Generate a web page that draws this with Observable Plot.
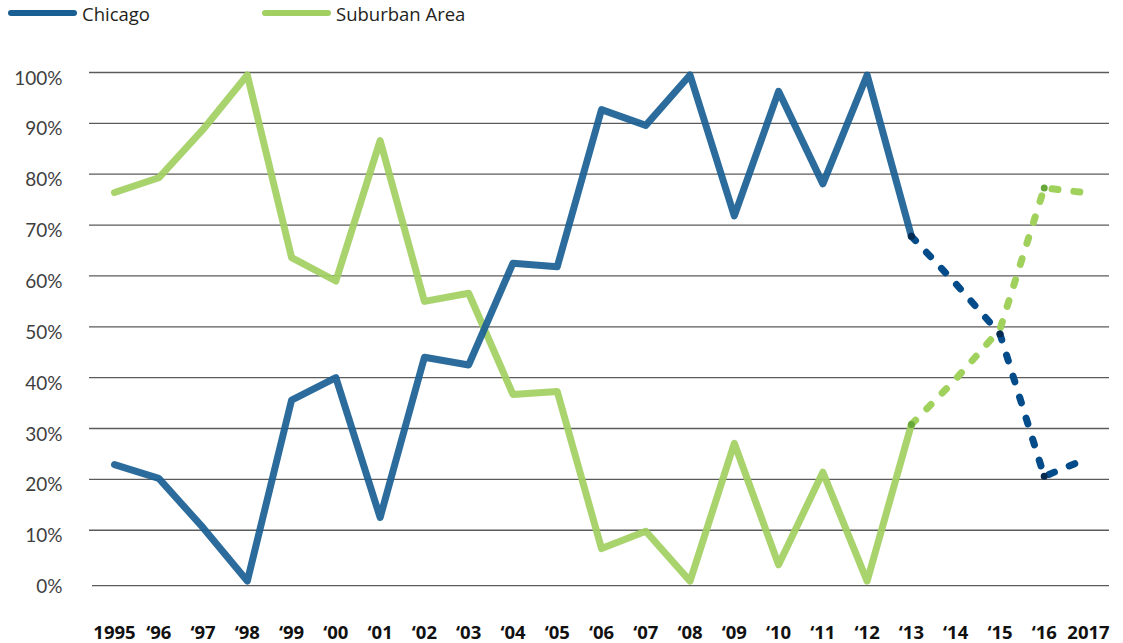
<!DOCTYPE html>
<html><head><meta charset="utf-8">
<script src="https://cdn.jsdelivr.net/npm/d3@7"></script>
<script src="https://cdn.jsdelivr.net/npm/@observablehq/plot@0.6"></script>
<style>
html,body{margin:0;padding:0;background:#fff;width:1123px;height:643px;overflow:hidden}
#legend{position:relative;height:28px;font-family:"Open Sans",sans-serif;font-size:18.5px;color:#231f20}
.item{position:absolute;top:-1px;height:28px;display:flex;align-items:center;white-space:nowrap}
.swatch{width:69px;height:6px;border-radius:3px;margin-right:5px}
</style></head><body>
<div id="legend"></div>
<div id="chart"></div>
<script>
const years = [1995,1996,1997,1998,1999,2000,2001,2002,2003,2004,2005,2006,2007,2008,2009,2010,2011,2012,2013,2014,2015,2016,2017];
const tickLabels = ["1995","‘96","‘97","‘98","‘99","‘00","‘01","‘02","‘03","‘04","‘05","‘06","‘07","‘08","‘09","‘10","‘11","‘12","‘13","‘14","‘15","‘16","2017"];
const chicago  = [22.9,20.2,10.5,0,35.6,40.0,12.5,44.0,42.5,62.5,61.8,92.7,89.6,99.5,71.8,96.3,78.1,99.5,67.8,58.5,48.6,20.6,24.2];
const suburban = [76.4,79.3,88.8,99.5,63.6,59.0,86.6,55.0,56.6,36.7,37.3,6.4,9.8,0,27.1,3.2,21.4,0,30.8,39.7,49.5,77.3,76.3];
const seriesNames = ["Chicago","Suburban Area"];
const lastActualYear = 2013;
const chicagoJointYears = [2013,2015,2016];
const suburbanJointYears = [2013,2016];
const yTicks = [0,10,20,30,40,50,60,70,80,90,100];

const colors = {
  "Chicago": {solid:"#1a5f94", dashed:"#034c89", joint:"#052a52"},
  "Suburban Area": {solid:"#a2cf61", dashed:"#9fd15c", joint:"#68a83a"}
};

// legend
const legend = document.getElementById("legend");
const legendLeft = [8, 262];
seriesNames.forEach((name,i)=>{
  const it = document.createElement("div");
  it.className = "item";
  it.style.left = legendLeft[i] + "px";
  const sw = document.createElement("div");
  sw.className = "swatch";
  sw.style.background = colors[name].solid;
  it.appendChild(sw);
  const t = document.createElement("span");
  t.textContent = name;
  it.appendChild(t);
  legend.appendChild(it);
});

const rows = [];
years.forEach((y,i)=>{
  rows.push({year:y, value:chicago[i], series:"Chicago"});
  rows.push({year:y, value:suburban[i], series:"Suburban Area"});
});
const actual = rows.filter(d=>d.year<=lastActualYear);
const projected = rows.filter(d=>d.year>=lastActualYear);
const joints = rows.filter(d=> d.series==="Chicago" ? chicagoJointYears.includes(d.year) : suburbanJointYears.includes(d.year));

const order = ["Suburban Area","Chicago"];
const lineMarks = [];
for (const s of order) {
  lineMarks.push(Plot.lineY(actual.filter(d=>d.series===s), {x:"year", y:"value", stroke: colors[s].solid, strokeWidth:7, strokeOpacity:0.92, strokeLinecap:"round", strokeLinejoin:"round"}));
}
for (const s of order) {
  lineMarks.push(Plot.lineY(projected.filter(d=>d.series===s), {x:"year", y:"value", stroke: colors[s].dashed, strokeWidth:7, strokeDasharray:"6,16", strokeLinecap:"round", strokeLinejoin:"round"}));
}

const chart = Plot.plot({
  width:1123,
  height:615,
  marginLeft:114,
  marginRight:35,
  marginTop:44,
  marginBottom:62.4,
  style:{fontFamily:"Lato, sans-serif", background:"#fff"},
  x:{type:"linear", domain:[1995,2017], label:null},
  y:{domain:[0,100], label:null},
  marks:[
    Plot.ruleY(yTicks.filter(d=>d>0), {stroke:"#5b5b5b", strokeWidth:1.3, insetLeft:-25, insetRight:-21}),
    Plot.ruleY([0], {stroke:"#5b5b5b", strokeWidth:1.3, dy:4.5, insetLeft:-22, insetRight:-21}),
    ...lineMarks,
    Plot.dot(joints, {x:"year", y:"value", r:3.5, fill:d=>colors[d.series].joint, stroke:null}),
    Plot.axisY({ticks:yTicks, tickFormat:d=>d+"%", tickSize:0, tickPadding:52, dy:6, fontSize:19, fontFamily:"Lato, sans-serif", color:"#3f3f3f", label:null}),
    Plot.axisX({ticks:years, tickFormat:d=>tickLabels[years.indexOf(d)], tickSize:0, tickPadding:45, fontSize:18.5, fontWeight:700, fontFamily:"Open Sans, sans-serif", color:"#111", label:null})
  ]
});
document.getElementById("chart").appendChild(chart);
</script>
</body></html>
